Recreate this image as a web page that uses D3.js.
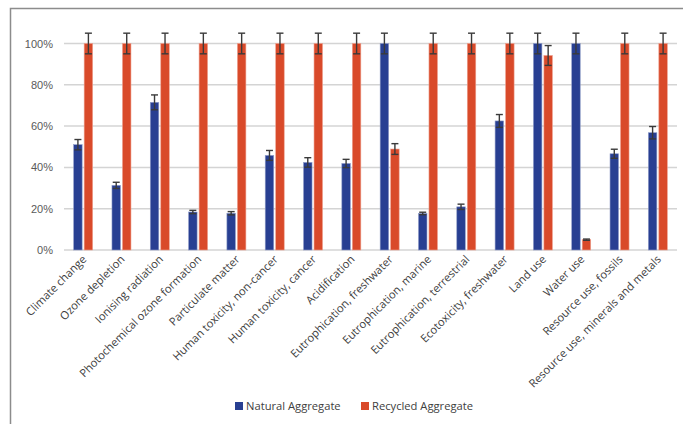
<!DOCTYPE html>
<html>
<head>
<meta charset="utf-8">
<script src="https://cdn.jsdelivr.net/npm/d3@7"></script>
<style>
  html, body { margin: 0; padding: 0; background: #fff; }
  svg { display: block; font-family: "Open Sans", "Liberation Sans", sans-serif; }
</style>
</head>
<body>
<svg id="chart" width="683" height="424"></svg>
<script>
// Impact categories (x axis)
const categories = [
  "Climate change", "Ozone depletion", "Ionising radiation",
  "Photochemical ozone formation", "Particulate matter",
  "Human toxicity, non-cancer", "Human toxicity, cancer", "Acidification",
  "Eutrophication, freshwater", "Eutrophication, marine",
  "Eutrophication, terrestrial", "Ecotoxicity, freshwater", "Land use",
  "Water use", "Resource use, fossils", "Resource use, minerals and metals"
];

// Relative impact (% of the larger of the two aggregates)
const naturalValues  = [51, 31.3, 71.5, 18.4, 17.8, 45.8, 42.4, 41.9, 100, 17.7, 20.9, 62.5, 100, 100, 46.6, 56.8];
const recycledValues = [100, 100, 100, 100, 100, 100, 100, 100, 48.9, 100, 100, 100, 94.2, 5.0, 100, 100];

// Error bar half-widths (percentage points)
const naturalErrors  = [2.5, 1.5, 3.6, 0.8, 0.8, 2.4, 2.3, 2.0, 5, 0.6, 1.3, 3.1, 5, 5, 2.2, 3.0];
const recycledErrors = [5, 5, 5, 5, 5, 5, 5, 5, 2.6, 5, 5, 5, 4.8, 0.3, 5, 5];

const seriesNames = ["Natural Aggregate", "Recycled Aggregate"];
const seriesColors = ["#283f92", "#d94a2a"];
const yTicks = [0, 20, 40, 60, 80, 100];

const svg = d3.select("#chart");

// outer frame (top and left edges visible)
svg.append("path")
  .attr("d", "M10.5,424 L10.5,8.5 L683,8.5")
  .attr("fill", "none")
  .attr("stroke", "#8c8c8c")
  .attr("stroke-width", 1.5);

const margin = { left: 64, right: 6, top: 43.5, bottom: 174 };
const width = 683 - margin.left - margin.right;
const plotBottom = 250;

const x = d3.scaleBand().domain(categories).range([margin.left, margin.left + width]);
const y = d3.scaleLinear().domain([0, 100]).range([plotBottom, margin.top]);

// gridlines
svg.append("g")
  .selectAll("line")
  .data(yTicks)
  .join("line")
  .attr("x1", margin.left).attr("x2", margin.left + width)
  .attr("y1", d => y(d)).attr("y2", d => y(d))
  .attr("stroke", "#d4d4d4")
  .attr("stroke-width", 1.5);

// y axis labels
const yAxis = d3.axisLeft(y).tickValues(yTicks).tickFormat(d => d + "%").tickSize(0).tickPadding(0);
const yg = svg.append("g").attr("transform", `translate(${margin.left - 11},0)`).call(yAxis);
yg.select(".domain").remove();
yg.selectAll("text").attr("fill", "#595959").style("font-size", "11px");

// bars
const barW = 8.5, gap = 2;
const groups = categories.map((c, i) => ({
  c,
  vals: [
    { s: 0, v: naturalValues[i], e: naturalErrors[i] },
    { s: 1, v: recycledValues[i], e: recycledErrors[i] }
  ]
}));

const g = svg.append("g")
  .selectAll("g")
  .data(groups)
  .join("g")
  .attr("transform", d => `translate(${x(d.c) + x.bandwidth() / 2},0)`);

const bx = s => s === 0 ? -barW - gap / 2 : gap / 2;

g.selectAll("rect")
  .data(d => d.vals)
  .join("rect")
  .attr("x", d => bx(d.s))
  .attr("width", barW)
  .attr("y", d => y(d.v))
  .attr("height", d => plotBottom - y(d.v))
  .attr("fill", d => seriesColors[d.s])
  .attr("stroke", d => d.s === 0 ? "#8f9cc8" : "#eea08f")
  .attr("stroke-width", 0.6);

// error bars
const eb = g.selectAll("g.err")
  .data(d => d.vals)
  .join("g")
  .attr("class", "err")
  .attr("transform", d => `translate(${bx(d.s) + barW / 2},0)`)
  .attr("stroke", "#3a3a3a")
  .attr("stroke-width", 1.4);
eb.append("line").attr("y1", d => y(d.v + d.e)).attr("y2", d => y(d.v - d.e));
eb.append("line").attr("x1", -3.5).attr("x2", 3.5).attr("y1", d => y(d.v + d.e)).attr("y2", d => y(d.v + d.e));
eb.append("line").attr("x1", -3.5).attr("x2", 3.5).attr("y1", d => y(d.v - d.e)).attr("y2", d => y(d.v - d.e));

// category labels, rotated
svg.append("g")
  .selectAll("text")
  .data(categories)
  .join("text")
  .attr("transform", d => `translate(${x(d) + x.bandwidth() / 2 + 4},${plotBottom + 10}) rotate(-45)`)
  .attr("text-anchor", "end")
  .attr("fill", "#404040")
  .style("font-size", "11.2px")
  .text(d => d);

// legend
const legendPos = [235, 361];
const lg = svg.append("g")
  .selectAll("g")
  .data(seriesNames)
  .join("g")
  .attr("transform", (d, i) => `translate(${legendPos[i]},406)`);
lg.append("rect").attr("x", 0).attr("y", -4).attr("width", 8).attr("height", 8)
  .attr("fill", (d, i) => seriesColors[i]);
lg.append("text").attr("x", 11).attr("y", 4)
  .attr("fill", "#404040")
  .style("font-size", "11.2px")
  .text(d => d);
</script>
</body>
</html>
